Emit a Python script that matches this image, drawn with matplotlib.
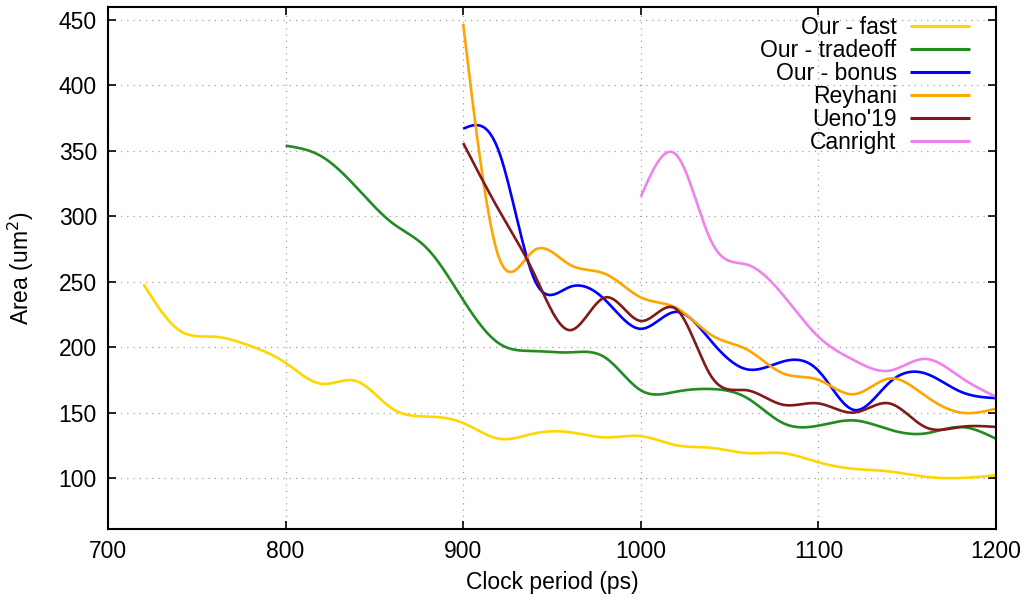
import numpy as np
import matplotlib
matplotlib.use("Agg")
import matplotlib.pyplot as plt

plt.rcParams['font.family'] = ['Liberation Sans', 'DejaVu Sans']

# ---- data ----
fast_x = [720, 740, 760, 780, 800, 820, 840, 860, 880, 900, 920, 940, 960, 980,
          1000, 1020, 1040, 1060, 1080, 1100, 1120, 1140, 1160, 1180, 1200]
fast_y = [248, 213, 208, 201, 188, 172, 174, 153, 147, 142, 130, 134, 135, 131,
          132, 125, 123, 119, 119, 112, 107, 105, 101, 100, 102]

trade_x = [800, 820, 840, 860, 880, 900, 920, 940, 960, 980, 1000, 1020, 1040,
           1060, 1080, 1100, 1120, 1140, 1160, 1180, 1200]
trade_y = [354, 346, 322, 295, 275, 236, 203, 197, 196, 192, 167, 166, 168,
           161, 142, 140, 144, 137, 134, 139, 130]

bonus_x = [900, 920, 940, 960, 980, 1000, 1020, 1040, 1060, 1080, 1100, 1120,
           1140, 1160, 1180, 1200]
bonus_y = [367, 350, 252, 246, 236, 214, 227, 204, 183, 189, 182, 152,
           173, 180, 166, 161]

rey_x = [900, 920, 940, 960, 980, 1000, 1020, 1040, 1060, 1080, 1100, 1120,
         1140, 1160, 1180, 1200]
rey_y = [447, 269, 274, 263, 256, 238, 230, 209, 198, 180, 175, 164,
         176, 163, 150, 153]

ueno_x = [900, 920, 940, 960, 980, 1000, 1020, 1040, 1060, 1080, 1100, 1120,
          1140, 1160, 1180, 1200]
ueno_y = [356, 305, 256, 213, 238, 220, 229, 177, 167, 156, 157, 150,
          157, 139, 139, 139]

can_x = [1000, 1020, 1040, 1060, 1080, 1100, 1120, 1140, 1160, 1180, 1200]
can_y = [315, 347, 280, 263, 240, 208, 190, 182, 191, 177, 162]

series = [
    ("Our - fast", fast_x, fast_y, "#ffd700"),
    ("Our - tradeoff", trade_x, trade_y, "#228b22"),
    ("Our - bonus", bonus_x, bonus_y, "#0000ff"),
    ("Reyhani", rey_x, rey_y, "#ffa500"),
    ("Ueno'19", ueno_x, ueno_y, "#7f1a1a"),
    ("Canright", can_x, can_y, "#ee82ee"),
]


def natural_cspline(x, y, per=30):
    """Natural cubic spline (like gnuplot 'smooth csplines')."""
    x = np.asarray(x, float)
    y = np.asarray(y, float)
    n = len(x)
    h = np.diff(x)
    A = np.zeros((n, n))
    b = np.zeros(n)
    A[0, 0] = 1
    A[-1, -1] = 1
    for i in range(1, n - 1):
        A[i, i - 1] = h[i - 1]
        A[i, i] = 2 * (h[i - 1] + h[i])
        A[i, i + 1] = h[i]
        b[i] = 6 * ((y[i + 1] - y[i]) / h[i] - (y[i] - y[i - 1]) / h[i - 1])
    M = np.linalg.solve(A, b)
    xs, ys = [], []
    for i in range(n - 1):
        t = np.linspace(x[i], x[i + 1], per, endpoint=(i == n - 2))
        a = x[i + 1] - t
        c = t - x[i]
        s = (M[i] * a ** 3 + M[i + 1] * c ** 3) / (6 * h[i]) \
            + (y[i] / h[i] - M[i] * h[i] / 6) * a \
            + (y[i + 1] / h[i] - M[i + 1] * h[i] / 6) * c
        xs.append(t)
        ys.append(s)
    return np.concatenate(xs), np.concatenate(ys)


fig = plt.figure(figsize=(10.30, 6.03), dpi=100)
ax = fig.add_axes([108 / 1030, 1 - 529 / 603, 888 / 1030, (529 - 7) / 603])

for label, xs, ys, col in series:
    sx, sy = natural_cspline(xs, ys)
    ax.plot(sx, sy, color=col, lw=1.9, label=label, solid_capstyle='butt')

ax.set_xlim(700, 1200)
ax.set_ylim(61, 460)
ax.set_xticks([700, 800, 900, 1000, 1100, 1200])
ax.set_yticks([100, 150, 200, 250, 300, 350, 400, 450])
ax.grid(True, color='#a0a0a0', linestyle=(0, (1, 4)), linewidth=0.9)
ax.tick_params(direction='in', length=6, width=1.2, top=True, right=True,
               labelsize=16.5, pad=8)
for sp in ax.spines.values():
    sp.set_linewidth(1.5)

ax.set_xlabel("Clock period (ps)", fontsize=16.5, labelpad=6)
ax.set_ylabel("Area (um$^2$)", fontsize=16.5, labelpad=16)

leg = ax.legend(loc='upper right', bbox_to_anchor=(970 / 1030, 1 - 16 / 603),
                bbox_transform=fig.transFigure, frameon=False, markerfirst=False,
                fontsize=16.5, handlelength=2.6, handletextpad=0.6,
                labelspacing=0.0, borderpad=0, borderaxespad=0)
for col in leg._legend_handle_box.get_children():
    col.align = "right"
for line in leg.get_lines():
    line.set_linewidth(2.2)

fig.savefig("out.png", dpi=100)
